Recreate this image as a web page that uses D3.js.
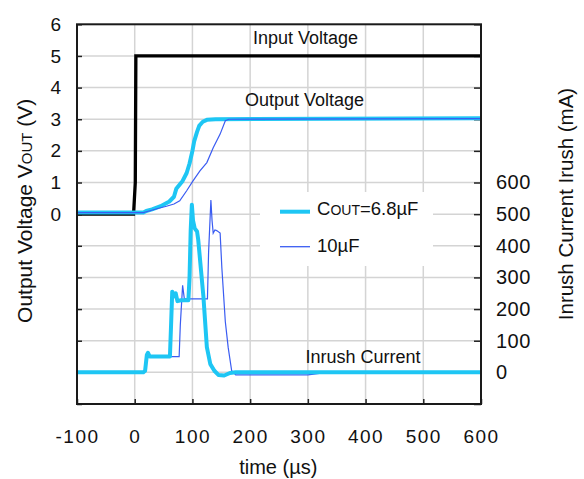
<!DOCTYPE html>
<html>
<head>
<meta charset="utf-8">
<script src="https://cdn.jsdelivr.net/npm/d3@7"></script>
<style>
  html, body { margin: 0; padding: 0; background: #fff; }
  svg text { font-family: "Liberation Sans", Arial, sans-serif; fill: #111; }
</style>
</head>
<body>
<svg id="chart" width="584" height="479"></svg>
<script>
// ---------------- data ----------------
const xTicks = [-100, 0, 100, 200, 300, 400, 500, 600];
const vTickLabels = [0, 1, 2, 3, 4, 5, 6];
const iTickLabels = [0, 100, 200, 300, 400, 500, 600];

// Input voltage (V)
const inTime = [-100, -2, 1, 2, 600];
const inVolt = [0, 0, 1, 5, 5];

// Output voltage, COUT = 6.8uF (V)
const out68Time = [-100, 15, 20, 30, 45, 60, 68, 72, 83, 90, 95, 100, 103, 108, 112, 118, 125, 140, 600];
const out68Volt = [0.05, 0.05, 0.1, 0.15, 0.25, 0.4, 0.55, 0.8, 1.05, 1.3, 1.6, 2.0, 2.3, 2.6, 2.8, 2.92, 2.98, 3.0, 3.03];

// Output voltage, COUT = 10uF (V)
const out10Time = [-100, 15, 25, 40, 55, 68, 78, 90, 101, 113, 125, 136, 148, 157, 163, 600];
const out10Volt = [0.05, 0.05, 0.1, 0.18, 0.25, 0.32, 0.42, 0.74, 1.05, 1.37, 1.63, 2.1, 2.53, 2.95, 3.0, 3.02];

// Inrush current, COUT = 6.8uF (mA)
const cur68Time = [-100, 15, 18, 21, 23, 26, 61, 63, 65, 68, 71, 74, 80, 93, 95, 97, 99, 101, 104, 108, 110, 113, 119, 125, 131, 138, 145, 155, 165, 175, 600];
const cur68mA = [0, 0, 5, 55, 62, 50, 50, 150, 255, 240, 250, 225, 228, 228, 300, 450, 530, 480, 455, 445, 420, 360, 240, 80, 26, 5, -8, -10, -2, 0, 0];

// Inrush current, COUT = 10uF (mA)
const cur10Time = [-100, 15, 18, 21, 23, 26, 77, 79, 83, 86, 90, 126, 128, 132, 134, 136, 139, 142, 148, 151, 157, 162, 168, 175, 300, 320, 600];
const cur10mA = [0, 0, 5, 55, 55, 50, 50, 150, 275, 232, 232, 232, 380, 545, 480, 440, 450, 448, 440, 330, 160, 78, 5, -8, -8, -3, 0];

// Annotations (data coordinates)
const labInput = { text: "Input Voltage", t: 205, v: 5.39 };
const labOutput = { text: "Output Voltage", t: 191, v: 3.43 };
const labInrush = { text: "Inrush Current", t: 296, mA: 30 };

const colCyan = "#1ec6f4";
const colBlue = "#3a5cf2";

// ---------------- layout ----------------
const svg = d3.select("#chart");
const L = 77, R = 481, T = 24.3, B = 404;

const x = d3.scaleLinear().domain([-100, 600]).range([L, R]);
const yV = d3.scaleLinear().domain([-6, 6]).range([B, T]);
const yI = d3.scaleLinear().domain([-100, 1100]).range([B, T]);

// grid
const grid = svg.append("g").attr("stroke", "#d4d4d4").attr("stroke-width", 1.5);
d3.range(0, 501, 100).forEach(t => {
  grid.append("line").attr("x1", x(t)).attr("x2", x(t)).attr("y1", T).attr("y2", B);
});
d3.range(-5, 6, 1).forEach(v => {
  grid.append("line").attr("x1", L).attr("x2", R).attr("y1", yV(v)).attr("y2", yV(v));
});

// legend background
svg.append("rect").attr("x", 260).attr("y", 192).attr("width", 173).attr("height", 74).attr("fill", "#fff");

// axes (inward ticks)
const axL = d3.axisLeft(yV).tickValues(d3.range(-6, 7)).tickSizeInner(-5).tickSizeOuter(0).tickPadding(16)
  .tickFormat(d => vTickLabels.includes(d) ? d : "");
const gL = svg.append("g").attr("transform", `translate(${L},0)`).call(axL);

const axR = d3.axisRight(yI).tickValues(d3.range(-100, 1101, 100)).tickSizeInner(-7).tickSizeOuter(0).tickPadding(15)
  .tickFormat(d => iTickLabels.includes(d) ? d : "");
const gR = svg.append("g").attr("transform", `translate(${R},0)`).call(axR);

const axB = d3.axisBottom(x).tickValues(xTicks).tickSizeInner(-5).tickSizeOuter(0).tickPadding(26)
  .tickFormat(d => d);
const gB = svg.append("g").attr("transform", `translate(0,${B})`).call(axB);

[gL, gR, gB].forEach(g => {
  g.select(".domain").remove();
  g.selectAll(".tick line").attr("stroke", "#222").attr("stroke-width", 1.5);
  g.selectAll("text").attr("fill", "#111").style("font-family", '"Liberation Sans", Arial, sans-serif');
});
gL.selectAll("text").style("font-size", "19px");
gB.selectAll("text").style("font-size", "19px").style("letter-spacing", "1.5px");
gR.selectAll("text").style("font-size", "20px").style("letter-spacing", "0.5px");

// data lines
const lineV = d3.line().x(d => x(d[0])).y(d => yV(d[1]));
const lineI = d3.line().x(d => x(d[0])).y(d => yI(d[1]));
const zip = (a, b) => a.map((d, i) => [d, b[i]]);

svg.append("path").attr("d", lineV(zip(inTime, inVolt)))
  .attr("fill", "none").attr("stroke", "#000").attr("stroke-width", 3.3);

svg.append("path").attr("d", lineI(zip(cur10Time, cur10mA)))
  .attr("fill", "none").attr("stroke", colBlue).attr("stroke-width", 1.2);
svg.append("path").attr("d", lineI(zip(cur68Time, cur68mA)))
  .attr("fill", "none").attr("stroke", colCyan).attr("stroke-width", 4).attr("stroke-linejoin", "round");

svg.append("path").attr("d", lineV(zip(out68Time, out68Volt)))
  .attr("fill", "none").attr("stroke", colCyan).attr("stroke-width", 4).attr("stroke-linejoin", "round");
svg.append("path").attr("d", lineV(zip(out10Time, out10Volt)))
  .attr("fill", "none").attr("stroke", colBlue).attr("stroke-width", 1.2);

// frame
svg.append("rect").attr("x", L).attr("y", T).attr("width", R - L).attr("height", B - T)
  .attr("fill", "none").attr("stroke", "#1a1a1a").attr("stroke-width", 2);

// annotations
svg.append("text").attr("x", x(labInput.t)).attr("y", yV(labInput.v)).style("font-size", "18px").text(labInput.text);
svg.append("text").attr("x", x(labOutput.t)).attr("y", yV(labOutput.v)).style("font-size", "18px").text(labOutput.text);
svg.append("text").attr("x", x(labInrush.t)).attr("y", yI(labInrush.mA)).style("font-size", "18px").text(labInrush.text);

// legend
svg.append("line").attr("x1", 280).attr("x2", 310).attr("y1", 211.7).attr("y2", 211.7).attr("stroke", colCyan).attr("stroke-width", 4);
const lt1 = svg.append("text").attr("x", 317).attr("y", 215).style("font-size", "18.5px");
lt1.append("tspan").text("C");
lt1.append("tspan").style("font-size", "14px").text("OUT");
lt1.append("tspan").text("=6.8µF");
svg.append("line").attr("x1", 280).attr("x2", 310).attr("y1", 246.7).attr("y2", 246.7).attr("stroke", colBlue).attr("stroke-width", 1.3);
svg.append("text").attr("x", 317).attr("y", 251.5).style("font-size", "18.5px").text("10µF");

// axis titles
const tl = svg.append("text").attr("transform", "translate(31.7,210.8) rotate(-90)")
  .attr("text-anchor", "middle").style("font-size", "21px");
tl.append("tspan").text("Output Voltage V");
tl.append("tspan").style("font-size", "15px").text("OUT");
tl.append("tspan").text(" (V)");

svg.append("text").attr("transform", "translate(573.3,204) rotate(-90)")
  .attr("text-anchor", "middle").style("font-size", "20.5px").text("Inrush Current Irush (mA)");

svg.append("text").attr("x", 278.3).attr("y", 474).attr("text-anchor", "middle")
  .style("font-size", "20px").text("time (µs)");
</script>
</body>
</html>
